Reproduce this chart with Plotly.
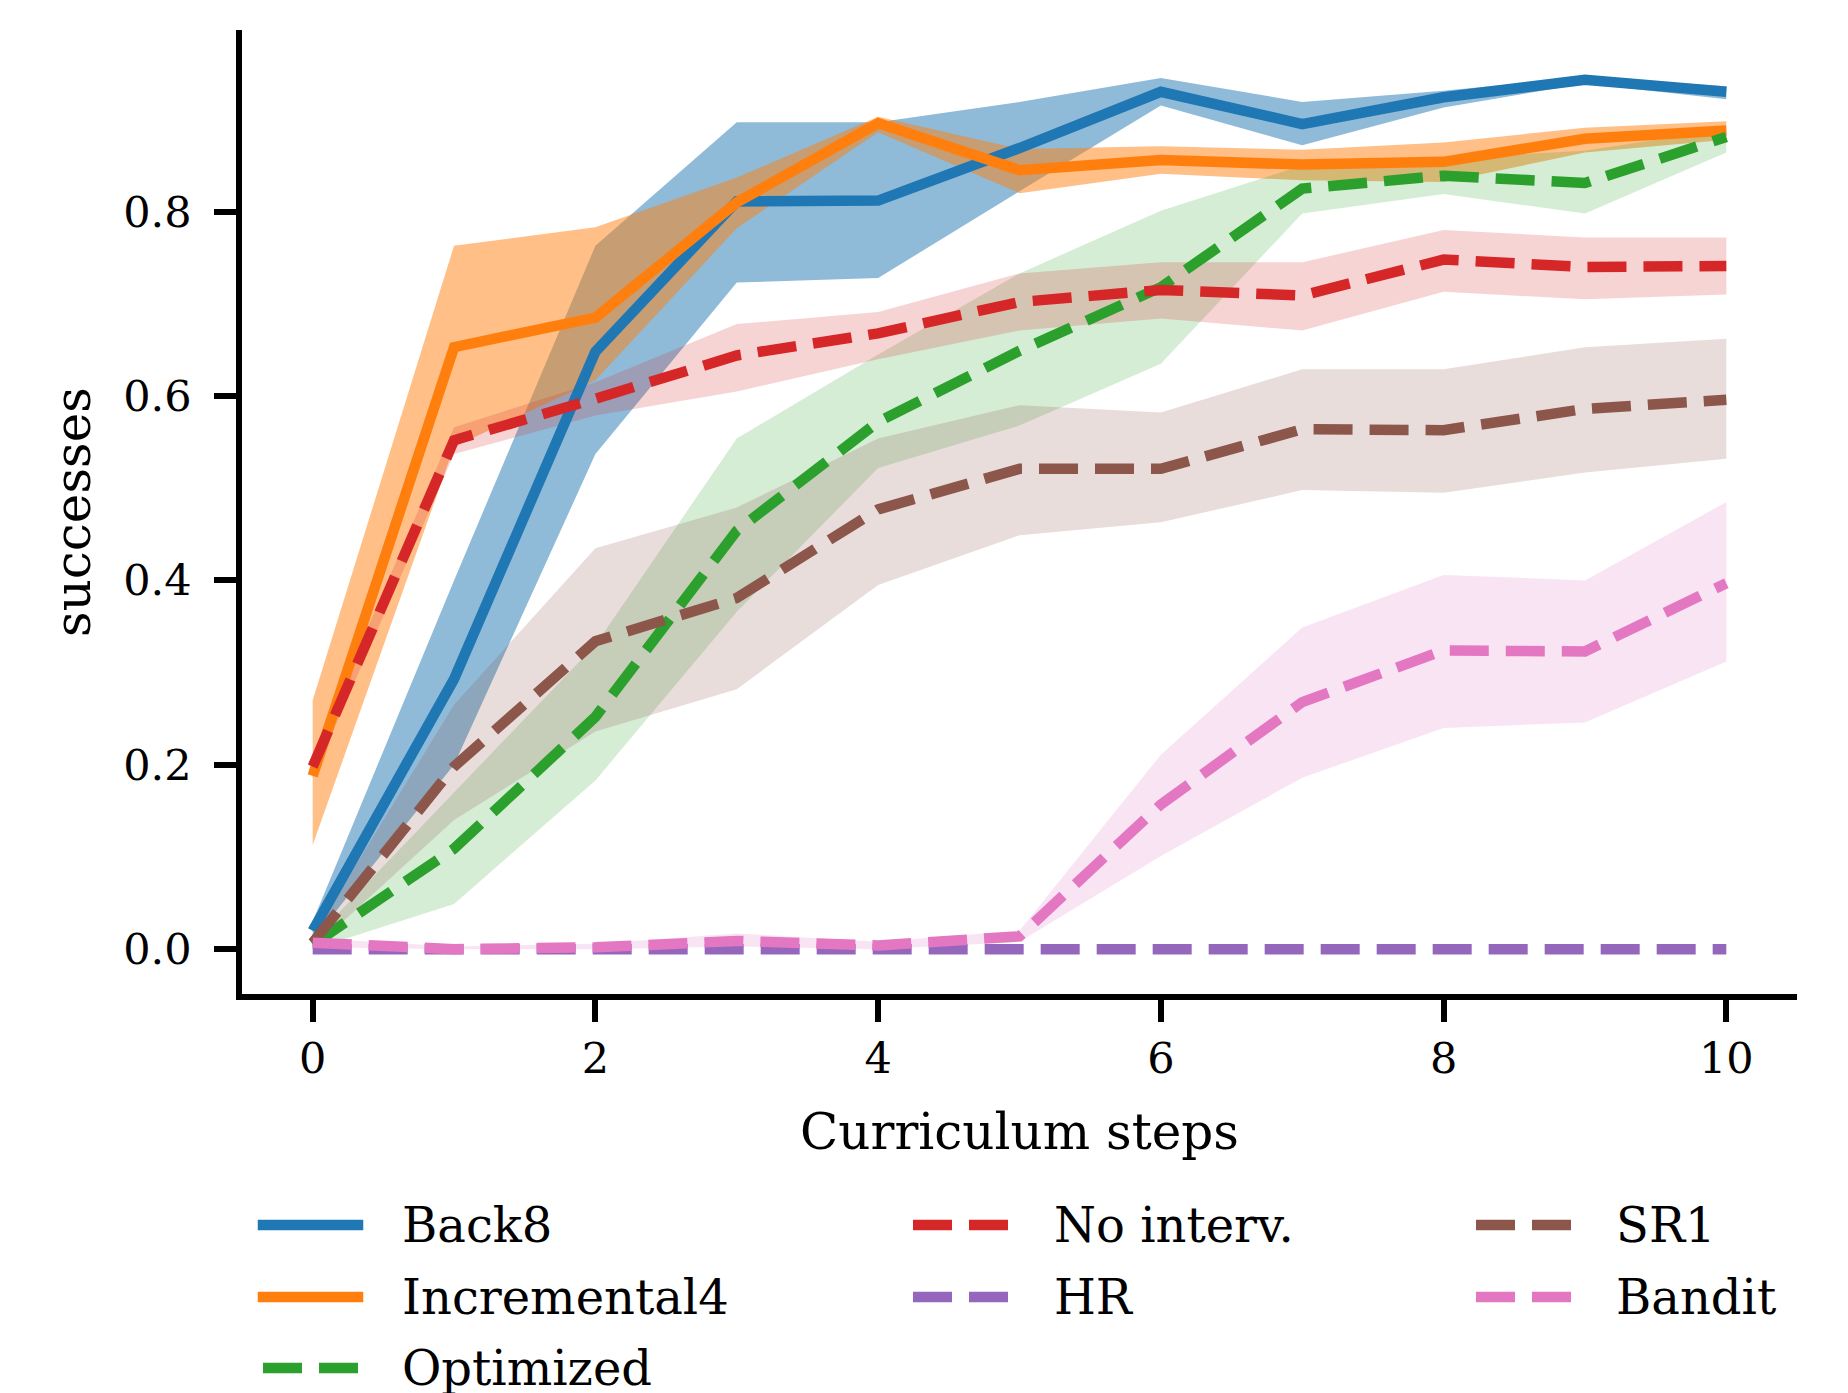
import plotly.graph_objects as go

# ---------------- data ----------------
steps = [0, 1, 2, 3, 4, 5, 6, 7, 8, 9, 10]

back8_mean  = [0.020, 0.293, 0.648, 0.811, 0.812, 0.869, 0.930, 0.895, 0.924, 0.943, 0.930]
back8_upper = [0.030, 0.400, 0.763, 0.897, 0.897, 0.919, 0.945, 0.919, 0.931, 0.946, 0.936]
back8_lower = [0.010, 0.200, 0.537, 0.723, 0.728, 0.822, 0.915, 0.872, 0.913, 0.939, 0.922]

inc4_mean  = [0.188, 0.653, 0.685, 0.810, 0.896, 0.845, 0.856, 0.851, 0.854, 0.879, 0.888]
inc4_upper = [0.270, 0.763, 0.783, 0.837, 0.903, 0.868, 0.871, 0.867, 0.875, 0.891, 0.898]
inc4_lower = [0.113, 0.545, 0.617, 0.782, 0.886, 0.820, 0.841, 0.834, 0.832, 0.864, 0.878]

opt_mean  = [0.005, 0.109, 0.252, 0.454, 0.572, 0.649, 0.718, 0.825, 0.839, 0.831, 0.881]
opt_upper = [0.010, 0.170, 0.330, 0.554, 0.645, 0.733, 0.801, 0.850, 0.858, 0.866, 0.890]
opt_lower = [0.000, 0.049, 0.183, 0.366, 0.522, 0.568, 0.635, 0.798, 0.819, 0.798, 0.864]

noint_mean  = [0.198, 0.552, 0.597, 0.644, 0.668, 0.702, 0.715, 0.709, 0.748, 0.740, 0.741]
noint_upper = [0.210, 0.566, 0.615, 0.678, 0.691, 0.733, 0.745, 0.745, 0.780, 0.772, 0.772]
noint_lower = [0.186, 0.537, 0.579, 0.605, 0.640, 0.671, 0.684, 0.671, 0.713, 0.705, 0.710]

hr_mean  = [0.0, 0.0, 0.0, 0.0, 0.0, 0.0, 0.0, 0.0, 0.0, 0.0, 0.0]
hr_upper = [0.0, 0.0, 0.0, 0.0, 0.0, 0.0, 0.0, 0.0, 0.0, 0.0, 0.0]
hr_lower = [0.0, 0.0, 0.0, 0.0, 0.0, 0.0, 0.0, 0.0, 0.0, 0.0, 0.0]

sr1_mean  = [0.007, 0.198, 0.334, 0.381, 0.477, 0.521, 0.521, 0.564, 0.563, 0.586, 0.596]
sr1_upper = [0.015, 0.265, 0.435, 0.479, 0.554, 0.590, 0.582, 0.629, 0.629, 0.653, 0.662]
sr1_lower = [0.000, 0.140, 0.236, 0.282, 0.395, 0.449, 0.463, 0.498, 0.495, 0.517, 0.532]

bandit_mean  = [0.007, 0.000, 0.002, 0.009, 0.004, 0.014, 0.157, 0.268, 0.324, 0.323, 0.397]
bandit_upper = [0.012, 0.003, 0.006, 0.017, 0.008, 0.020, 0.211, 0.349, 0.406, 0.400, 0.485]
bandit_lower = [0.002, 0.000, 0.000, 0.003, 0.000, 0.008, 0.101, 0.186, 0.240, 0.246, 0.312]

names = ["Back8", "Incremental4", "Optimized", "No interv.", "HR", "SR1", "Bandit"]
means = [back8_mean, inc4_mean, opt_mean, noint_mean, hr_mean, sr1_mean, bandit_mean]
uppers = [back8_upper, inc4_upper, opt_upper, noint_upper, hr_upper, sr1_upper, bandit_upper]
lowers = [back8_lower, inc4_lower, opt_lower, noint_lower, hr_lower, sr1_lower, bandit_lower]

x_ticks = [0, 2, 4, 6, 8, 10]
y_ticks = [0.0, 0.2, 0.4, 0.6, 0.8]

# ---------------- styles ----------------
rgb = [(31, 119, 180), (255, 127, 14), (44, 160, 44), (214, 39, 40),
       (148, 103, 189), (140, 86, 75), (227, 119, 194)]
band_alpha = [0.5, 0.5, 0.2, 0.2, 0.2, 0.2, 0.2]
solid = [True, True, False, False, False, False, False]
LW = 10.5
DASH = "39px,17px"
FONT = "DejaVu Serif"

# the page body has an 8px margin, so the figure is 8px smaller and all
# pixel positions are given relative to the figure's own origin
OFF = 8
W, H = 1848 - OFF, 1393 - OFF
PL, PR, PT, PB = 242 - OFF, 1797 - OFF, 30 - OFF, 994 - OFF

def px(xp):
    return (xp - OFF - PL) / (PR - PL)

def py(yp):
    return (PB - (yp - OFF)) / (PB - PT)

fig = go.Figure()

# bands first
for i in range(len(names)):
    r, g, b = rgb[i]
    fig.add_trace(go.Scatter(
        x=steps + steps[::-1],
        y=uppers[i] + lowers[i][::-1],
        fill="toself",
        fillcolor=f"rgba({r},{g},{b},{band_alpha[i]})",
        line=dict(width=0),
        mode="lines",
        hoverinfo="skip",
        showlegend=False,
    ))

# lines on top
for i in range(len(names)):
    r, g, b = rgb[i]
    fig.add_trace(go.Scatter(
        x=steps, y=means[i], mode="lines", name=names[i],
        line=dict(color=f"rgb({r},{g},{b})", width=LW,
                  dash="solid" if solid[i] else DASH),
        showlegend=False,
    ))

# manual legend (3 columns, column-major like the original); page pixel positions
col_x0 = [263, 913, 1476]
col_text = [400, 1052, 1614]
row_y = [1225, 1297, 1368]
handle_len = 95
layout_cols = [0, 0, 0, 1, 1, 2, 2]
layout_rows = [0, 1, 2, 0, 1, 0, 1]
shapes = []
annotations = []
for i in range(len(names)):
    r, g, b = rgb[i]
    c, rr = layout_cols[i], layout_rows[i]
    x0 = col_x0[c]
    x1 = x0 + handle_len
    if solid[i]:
        x0 -= LW / 2
        x1 += LW / 2
    shapes.append(dict(
        type="line", xref="paper", yref="paper",
        x0=px(x0), x1=px(x1), y0=py(row_y[rr]), y1=py(row_y[rr]),
        line=dict(color=f"rgb({r},{g},{b})", width=LW,
                  dash="solid" if solid[i] else DASH),
    ))
    annotations.append(dict(
        xref="paper", yref="paper", x=px(col_text[c]), y=py(row_y[rr]),
        text=names[i], showarrow=False, xanchor="left", yanchor="middle",
        font=dict(family=FONT, size=48, color="black"),
    ))

fig.update_layout(
    width=W, height=H,
    margin=dict(l=PL, r=W - PR, t=PT, b=H - PB, autoexpand=False),
    paper_bgcolor="white", plot_bgcolor="white",
    font=dict(family=FONT, color="black"),
    shapes=shapes, annotations=annotations,
    showlegend=False,
)
fig.update_xaxes(
    range=[-0.5, 10.5], tickmode="array", tickvals=x_ticks,
    ticktext=[str(v) for v in x_ticks],
    ticks="outside", ticklen=22, tickwidth=5.5, tickcolor="black",
    showline=True, linewidth=5.5, linecolor="black",
    showgrid=False, zeroline=False, automargin=False,
    tickfont=dict(family=FONT, size=43, color="black"),
    title=dict(text="Curriculum steps", font=dict(family=FONT, size=50, color="black"), standoff=34),
)
fig.update_yaxes(
    range=[-0.0486, 0.997], tickmode="array", tickvals=y_ticks,
    ticktext=[f"{v:.1f}" for v in y_ticks],
    ticks="outside", ticklen=22, tickwidth=5.5, tickcolor="black",
    showline=True, linewidth=5.5, linecolor="black",
    showgrid=False, zeroline=False, automargin=False,
    ticklabelstandoff=14,
    tickfont=dict(family=FONT, size=43, color="black"),
    title=dict(text="successes", font=dict(family=FONT, size=50, color="black"), standoff=19),
)

fig.write_html("out.html")
